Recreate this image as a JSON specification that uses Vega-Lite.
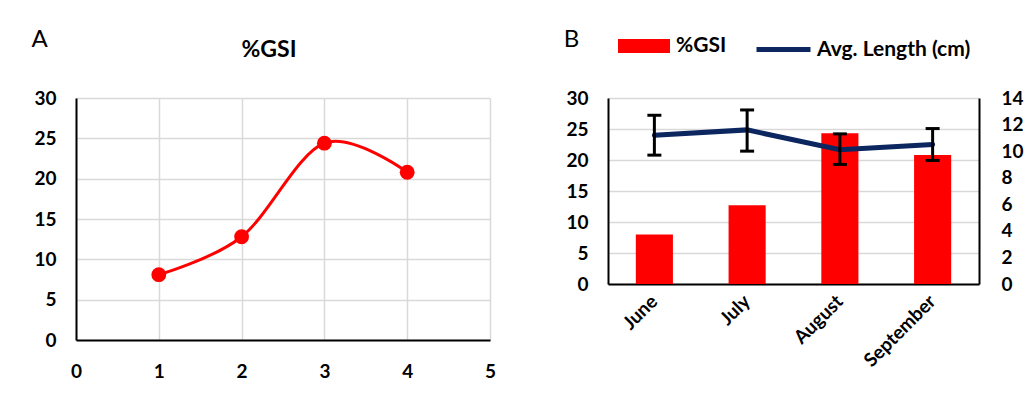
{
  "$schema": "https://vega.github.io/schema/vega-lite/v6.json",
  "padding": {"left": 30, "top": 20, "right": 5, "bottom": 5},
  "background": "#ffffff",
  "spacing": 67,
  "config": {
    "font": "Lato",
    "view": {"stroke": null},
    "axis": {
      "labelFont": "Lato", "labelFontWeight": "bold", "labelFontSize": 19, "labelColor": "#000000",
      "ticks": false, "domainColor": "#000000", "domainWidth": 2,
      "gridColor": "#d9d9d9", "gridWidth": 1.5,
      "titleFont": "Lato", "titleFontWeight": "normal", "titleFontSize": 24, "titleColor": "#000000"
    }
  },
  "hconcat": [
    {
      "width": 414, "height": 242,
      "title": {"text": "%GSI", "fontSize": 23, "fontWeight": "bold", "font": "Lato", "offset": -30, "dx": -14, "dy": 5, "anchor": "middle", "color": "#000000"},
      "data": {"values": [
        {"x": 1, "gsi": 8.1},
        {"x": 2, "gsi": 12.8},
        {"x": 3, "gsi": 24.4},
        {"x": 4, "gsi": 20.8}
      ]},
      "encoding": {
        "x": {"field": "x", "type": "quantitative", "scale": {"domain": [0, 5], "nice": false},
          "axis": {"title": null, "values": [0, 1, 2, 3, 4, 5], "format": "d", "labelPadding": 22, "grid": true, "labelFlush": false}},
        "y": {"field": "gsi", "type": "quantitative", "scale": {"domain": [0, 30], "nice": false},
          "axis": {"title": "A", "titleAngle": 0, "titleX": -37, "titleY": -59, "titleAlign": "center", "titleBaseline": "middle",
            "values": [0, 5, 10, 15, 20, 25, 30], "labelPadding": 20, "grid": true}}
      },
      "layer": [
        {"mark": {"type": "line", "interpolate": "cardinal", "color": "#ff0000", "strokeWidth": 3}},
        {"mark": {"type": "point", "filled": true, "color": "#ff0000", "size": 220, "opacity": 1}}
      ]
    },
    {
      "width": 371, "height": 186,
      "data": {"values": [
        {"month": "June", "gsi": 8.0, "len": 11.2, "lo": 9.7, "hi": 12.7},
        {"month": "July", "gsi": 12.7, "len": 11.6, "lo": 10.0, "hi": 13.1},
        {"month": "August", "gsi": 24.3, "len": 10.1, "lo": 9.0, "hi": 11.3},
        {"month": "September", "gsi": 20.8, "len": 10.5, "lo": 9.3, "hi": 11.7}
      ]},
      "encoding": {
        "x": {"field": "month", "type": "nominal", "sort": null,
          "scale": {"paddingInner": 0.6, "paddingOuter": 0.3},
          "axis": {"title": null, "labelAngle": -45, "labelAlign": "right", "labelBaseline": "middle", "labelPadding": 14}}
      },
      "layer": [
        {
          "mark": {"type": "bar"},
          "encoding": {
            "y": {"field": "gsi", "type": "quantitative", "scale": {"domain": [0, 30], "nice": false},
              "axis": {"title": "B", "titleAngle": 0, "titleX": -37, "titleY": -59, "titleAlign": "center", "titleBaseline": "middle",
                "values": [0, 5, 10, 15, 20, 25, 30], "labelPadding": 20, "grid": true}},
            "fill": {"datum": "%GSI", "type": "nominal", "scale": {"range": ["#ff0000"]},
              "legend": {"orient": "none", "legendX": 10, "legendY": -78, "title": null, "padding": 0,
                "symbolType": "M-1,-0.27H1V0.27H-1Z", "symbolSize": 2704, "symbolStrokeWidth": 0, "symbolOpacity": 1,
                "labelFont": "Lato", "labelFontSize": 21, "labelFontWeight": "bold", "labelColor": "#000000", "labelOffset": 6}}
          }
        },
        {
          "layer": [
            {
              "mark": {"type": "line", "strokeWidth": 5, "strokeCap": "round"},
              "encoding": {
                "y": {"field": "len", "type": "quantitative", "scale": {"domain": [0, 14], "nice": false},
                  "axis": {"orient": "right", "title": null, "values": [0, 2, 4, 6, 8, 10, 12, 14], "labelPadding": 22, "grid": false, "labelOverlap": false}},
                "stroke": {"datum": "Avg. Length (cm)", "type": "nominal", "scale": {"range": ["#0c2660"]},
                  "legend": {"orient": "none", "legendX": 146, "legendY": -78, "title": null, "padding": 0,
                    "symbolType": "M-1,0H1", "symbolSize": 2916, "symbolStrokeWidth": 5, "symbolOpacity": 1,
                    "labelFont": "Lato", "labelFontSize": 21, "labelFontWeight": "bold", "labelColor": "#000000", "labelOffset": 4}}
              }
            },
            {
              "mark": {"type": "rule", "color": "#000000", "strokeWidth": 3},
              "encoding": {
                "y": {"field": "lo", "type": "quantitative", "scale": {"domain": [0, 14], "nice": false},
                  "axis": {"orient": "right", "title": null, "values": [0, 2, 4, 6, 8, 10, 12, 14], "labelPadding": 22, "grid": false, "labelOverlap": false}},
                "y2": {"field": "hi"}
              }
            },
            {
              "mark": {"type": "tick", "color": "#000000", "thickness": 3, "size": 14, "opacity": 1},
              "encoding": {"y": {"field": "lo", "type": "quantitative", "scale": {"domain": [0, 14], "nice": false},
                "axis": {"orient": "right", "title": null, "values": [0, 2, 4, 6, 8, 10, 12, 14], "labelPadding": 22, "grid": false, "labelOverlap": false}}}
            },
            {
              "mark": {"type": "tick", "color": "#000000", "thickness": 3, "size": 14, "opacity": 1},
              "encoding": {"y": {"field": "hi", "type": "quantitative", "scale": {"domain": [0, 14], "nice": false},
                "axis": {"orient": "right", "title": null, "values": [0, 2, 4, 6, 8, 10, 12, 14], "labelPadding": 22, "grid": false, "labelOverlap": false}}}
            }
          ]
        }
      ],
      "resolve": {"scale": {"y": "independent", "fill": "independent", "stroke": "independent"}}
    }
  ]
}
